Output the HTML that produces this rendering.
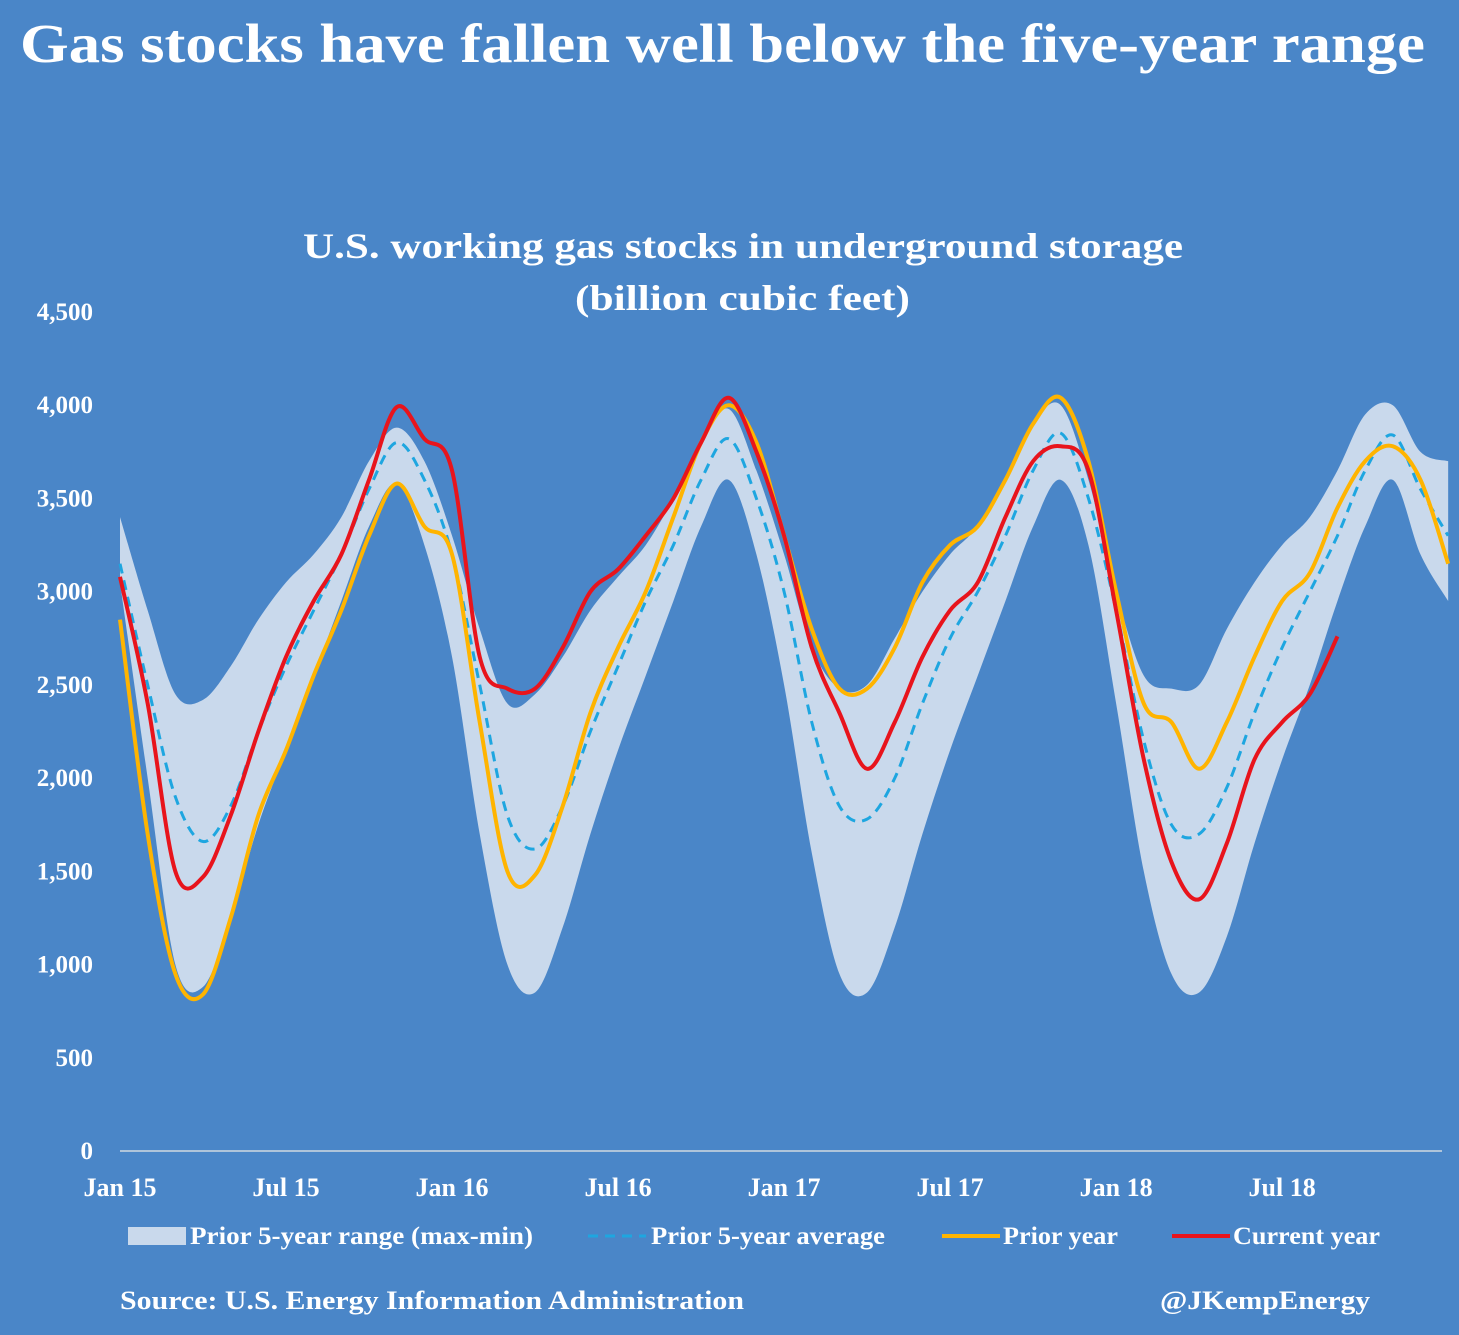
<!DOCTYPE html>
<html><head><meta charset="utf-8"><style>
html,body{margin:0;padding:0;background:#4a86c8;}
body{width:1459px;height:1335px;overflow:hidden;position:relative;font-family:"Liberation Serif",serif;color:#fff;}
</style></head><body>
<svg id="chart" width="1459" height="1335" xmlns="http://www.w3.org/2000/svg" style="position:absolute;left:0;top:0">
<rect width="1459" height="1335" fill="#4a86c8"/>
<text x="20" y="62" textLength="1405" lengthAdjust="spacingAndGlyphs" font-family="Liberation Serif, serif" font-size="55" font-weight="bold" fill="#fff">Gas stocks have fallen well below the five-year range</text>
<text x="303" y="258" textLength="880" lengthAdjust="spacingAndGlyphs" font-family="Liberation Serif, serif" font-size="36" font-weight="bold" fill="#fff">U.S. working gas stocks in underground storage</text>
<text x="575" y="310" textLength="335" lengthAdjust="spacingAndGlyphs" font-family="Liberation Serif, serif" font-size="36" font-weight="bold" fill="#fff">(billion cubic feet)</text>
<g id="yaxis"></g><g id="xaxis"></g><g id="plot"></g>
<g font-family="Liberation Serif, serif" font-size="25" font-weight="bold" fill="#fff">
<rect x="128" y="1227" width="58" height="18" fill="#c9d9ec"/>
<text x="190" y="1244" textLength="343" lengthAdjust="spacingAndGlyphs">Prior 5-year range (max-min)</text>
<line x1="588" y1="1236" x2="646" y2="1236" stroke="#1ea6e0" stroke-width="3" stroke-dasharray="10,7"/>
<text x="651" y="1244" textLength="234" lengthAdjust="spacingAndGlyphs">Prior 5-year average</text>
<line x1="942" y1="1236" x2="1000" y2="1236" stroke="#ffb400" stroke-width="4"/>
<text x="1003" y="1244" textLength="115" lengthAdjust="spacingAndGlyphs">Prior year</text>
<line x1="1172" y1="1236" x2="1230" y2="1236" stroke="#e8141c" stroke-width="4"/>
<text x="1233" y="1244" textLength="147" lengthAdjust="spacingAndGlyphs">Current year</text>
</g>
<text x="120" y="1309" textLength="624" lengthAdjust="spacingAndGlyphs" font-family="Liberation Serif, serif" font-size="26" font-weight="bold" fill="#fff">Source: U.S. Energy Information Administration</text>
<text x="1160" y="1309" textLength="210" lengthAdjust="spacingAndGlyphs" font-family="Liberation Serif, serif" font-size="26" font-weight="bold" fill="#fff">@JKempEnergy</text>
</svg>
<script>
const xTickLabels=["Jan 15","Jul 15","Jan 16","Jul 16","Jan 17","Jul 17","Jan 18","Jul 18"];
const xTickMonths=[0,6,12,18,24,30,36,42];
const yTicks=[0,500,1000,1500,2000,2500,3000,3500,4000,4500];
const rangeMax=[3400,2900,2450,2420,2600,2850,3050,3200,3400,3700,3880,3700,
3300,2800,2400,2450,2650,2900,3080,3250,3500,3800,3980,3650,
3200,2700,2480,2500,2750,3000,3200,3350,3600,3900,4000,3600,
3000,2550,2480,2500,2800,3050,3250,3400,3650,3950,4000,3750,3700];
const rangeMin=[3050,2000,1000,880,1250,1750,2150,2550,2950,3350,3580,3250,
2650,1700,1000,850,1200,1700,2150,2550,2950,3350,3600,3200,
2500,1600,950,850,1200,1700,2150,2550,2950,3350,3600,3250,
2400,1500,950,850,1150,1650,2100,2500,2950,3350,3600,3200,2950];
const avg5=[3150,2500,1900,1660,1850,2250,2600,2900,3200,3550,3800,3600,
3200,2500,1800,1620,1850,2250,2600,2950,3250,3600,3820,3500,
3000,2300,1850,1780,2000,2400,2750,3000,3300,3650,3850,3500,
2900,2200,1750,1700,1950,2350,2700,3000,3300,3650,3840,3550,3300];
const priorYear=[2850,1700,950,840,1250,1800,2150,2550,2900,3300,3580,3350,
3200,2300,1500,1480,1850,2350,2700,3000,3400,3800,4000,3800,
3300,2800,2480,2480,2700,3050,3250,3350,3600,3900,4040,3700,
3000,2400,2300,2050,2300,2650,2950,3100,3450,3700,3780,3600,3150];
const currentYear=[3080,2400,1500,1470,1800,2250,2650,2950,3200,3600,3990,3820,
3650,2650,2480,2480,2700,3000,3120,3300,3500,3800,4040,3750,
3300,2700,2350,2050,2300,2650,2900,3050,3400,3700,3780,3650,
2900,2100,1550,1350,1650,2100,2300,2450,2760];
const NS="http://www.w3.org/2000/svg";
const X0=120,MW=27.67,Y0=1151,YS=0.18644;
function xs(m){return X0+m*MW;}
function ys(v){return Y0-v*YS;}
function mk(tag,attrs,parent){const e=document.createElementNS(NS,tag);for(const k in attrs)e.setAttribute(k,attrs[k]);parent.appendChild(e);return e;}
function pts(arr){return arr.map((v,i)=>[xs(i),ys(v)]);}
function smooth(p){let d="M"+p[0][0]+","+p[0][1];for(let i=0;i<p.length-1;i++){const a=p[i-1]||p[i],b=p[i],c=p[i+1],e=p[i+2]||c;
d+=" C"+(b[0]+(c[0]-a[0])/6)+","+(b[1]+(c[1]-a[1])/6)+" "+(c[0]-(e[0]-b[0])/6)+","+(c[1]-(e[1]-b[1])/6)+" "+c[0]+","+c[1];}return d;}
const ya=document.getElementById('yaxis'),xa=document.getElementById('xaxis'),pl=document.getElementById('plot');
yTicks.forEach(t=>{const e=mk('text',{x:93,y:ys(t)+8,'text-anchor':'end','font-family':'Liberation Serif, serif','font-size':25,'font-weight':'bold',fill:'#fff'},ya);e.textContent=t.toLocaleString('en-US');

});
xTickLabels.forEach((l,i)=>{const e=mk('text',{x:xs(xTickMonths[i]),y:1196,'text-anchor':'middle','font-family':'Liberation Serif, serif','font-size':26,'font-weight':'bold',fill:'#fff'},xa);e.textContent=l;

});
const up=pts(rangeMax),lo=pts(rangeMin).reverse();
const lp=smooth(lo);
const band=mk('path',{d:smooth(up)+" L"+lp.slice(1)+" Z",fill:'#c9d9ec',stroke:'none'},pl);


const ax=mk('line',{x1:X0,y1:Y0,x2:1442,y2:Y0,stroke:'#d0d8e0','stroke-width':1.5},pl);


const a=mk('path',{d:smooth(pts(avg5)),fill:'none',stroke:'#1ea6e0','stroke-width':3,'stroke-dasharray':'10,7'},pl);


const o=mk('path',{d:smooth(pts(priorYear)),fill:'none',stroke:'#ffb400','stroke-width':4},pl);


const r=mk('path',{d:smooth(pts(currentYear)),fill:'none',stroke:'#e8141c','stroke-width':4},pl);


</script>
</body></html>
